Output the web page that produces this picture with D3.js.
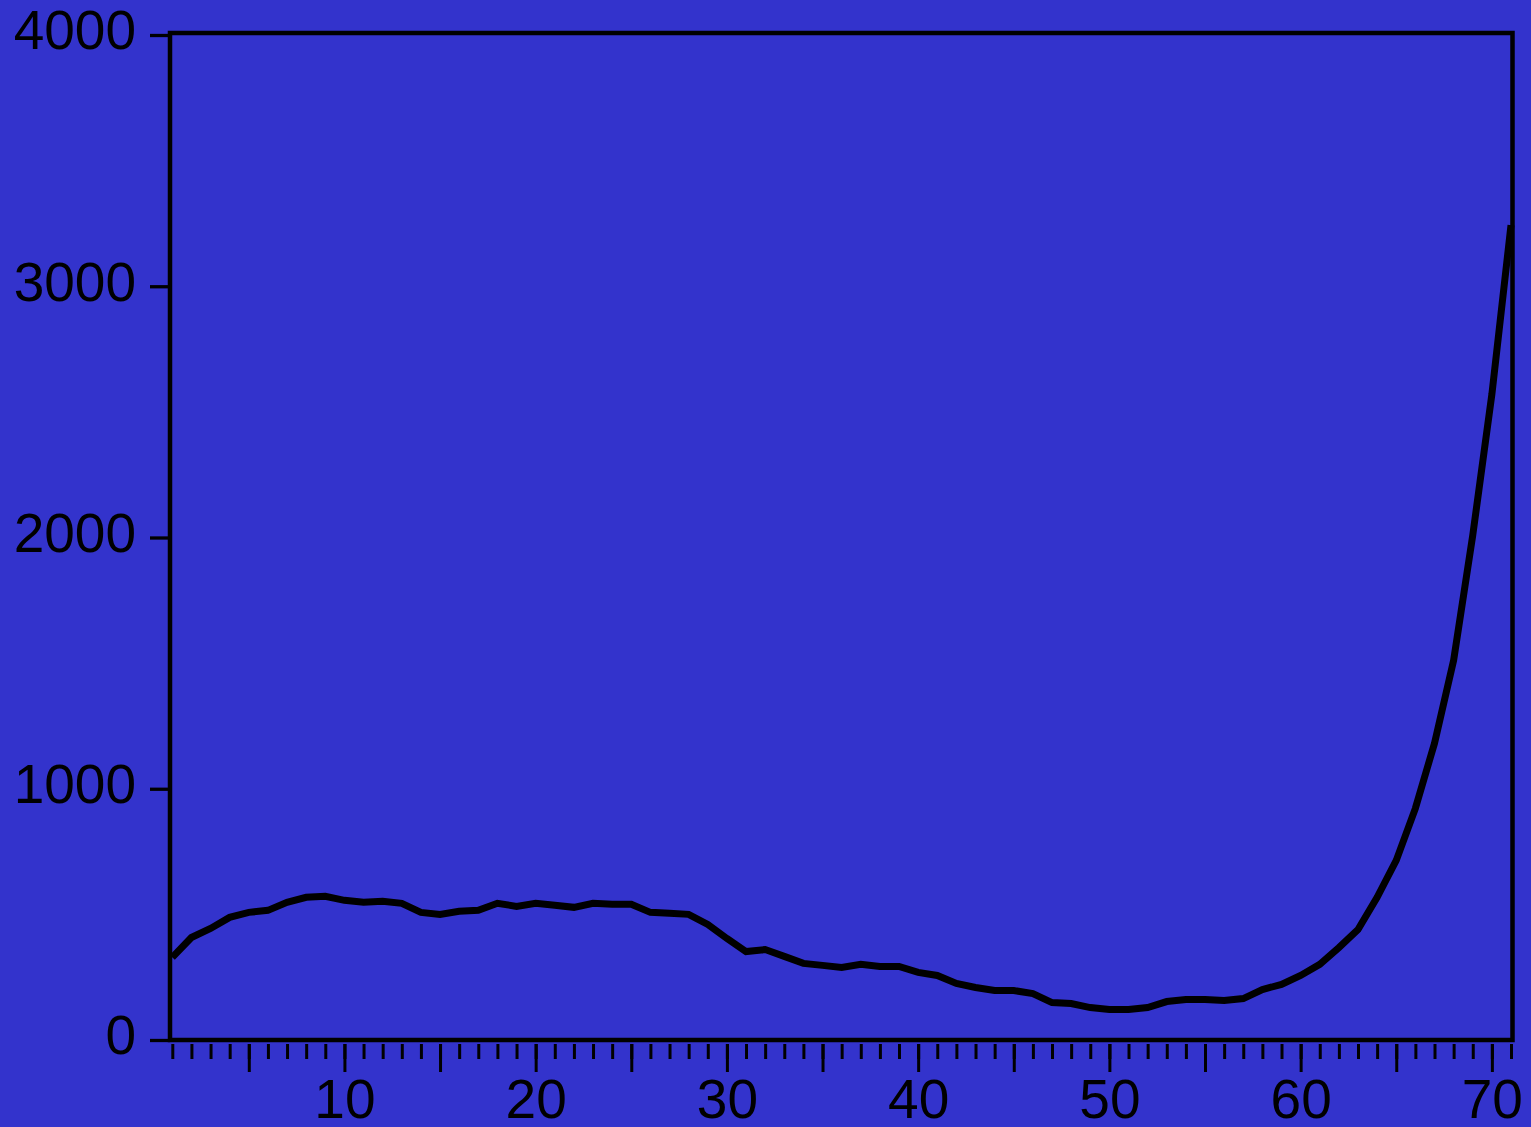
<!DOCTYPE html>
<html>
<head>
<meta charset="utf-8">
<script src="https://cdn.jsdelivr.net/npm/d3@7"></script>
<style>
  html, body { margin: 0; padding: 0; background: #3333CC; }
  svg { display: block; }
</style>
</head>
<body>
<svg id="chart" width="1531" height="1127"></svg>
<script>
// ---- data ----
const periods = d3.range(1, 72);
const values = [
  329, 408, 444, 488, 508, 516, 548, 568, 572, 556,
  548, 552, 544, 508, 500, 512, 516, 544, 532, 544,
  536, 528, 544, 540, 540, 508, 504, 500, 460, 404,
  352, 360, 333, 305, 297, 289, 301, 293, 293, 269,
  257, 225, 209, 197, 197, 185, 149, 145, 129, 121,
  121, 129, 153, 161, 161, 157, 165, 201, 221, 257,
  301, 368, 440, 568, 715, 922, 1181, 1511, 2009, 2570,
  3243
];
const yTicks = [0, 1000, 2000, 3000, 4000];
const xMajorTicks = [5, 10, 15, 20, 25, 30, 35, 40, 45, 50, 55, 60, 65, 70];
const xLabelTicks = [10, 20, 30, 40, 50, 60, 70];

// ---- layout ----
const frame = { left: 170, right: 1512.5, top: 33, bottom: 1040 };
const svg = d3.select("#chart");
const font = "'Liberation Sans', Arial, sans-serif";
const fontSize = 55;

svg.append("rect").attr("width", 1531).attr("height", 1127).attr("fill", "#3333CC");

const x = d3.scaleLinear().domain([1, 71]).range([172.3, 1511]);
const y = d3.scaleLinear().domain([0, 4000]).range([1040, 35]);

// frame
svg.append("rect")
  .attr("x", frame.left).attr("y", frame.top)
  .attr("width", frame.right - frame.left).attr("height", frame.bottom - frame.top)
  .attr("fill", "none").attr("stroke", "#000").attr("stroke-width", 4.5);

// y axis
const yAxis = d3.axisLeft(y).tickValues(yTicks).tickSize(20).tickPadding(14).tickFormat(d3.format("d"));
const gy = svg.append("g").attr("transform", `translate(${frame.left},0)`).call(yAxis);
gy.select(".domain").remove();
gy.selectAll(".tick line").attr("stroke", "#000").attr("stroke-width", 3.3);
gy.selectAll(".tick text").attr("fill", "#000").attr("font-family", font)
  .attr("font-size", fontSize).attr("dy", "0.25em");

// x axis minor ticks
const xMinor = d3.axisBottom(x).tickValues(periods).tickSize(15).tickFormat("");
const gxm = svg.append("g").attr("transform", `translate(0,1044)`).call(xMinor);
gxm.select(".domain").remove();
gxm.selectAll(".tick line").attr("stroke", "#000").attr("stroke-width", 3);

// x axis major ticks + labels
const xMajor = d3.axisBottom(x).tickValues(xMajorTicks).tickSize(28).tickPadding(7)
  .tickFormat(d => xLabelTicks.includes(d) ? String(d) : "");
const gxM = svg.append("g").attr("transform", `translate(0,1044)`).call(xMajor);
gxM.select(".domain").remove();
gxM.selectAll(".tick line").attr("stroke", "#000").attr("stroke-width", 3);
gxM.selectAll(".tick text").attr("fill", "#000").attr("font-family", font).attr("font-size", fontSize);

// line
const line = d3.line().x((d, i) => x(periods[i])).y(d => y(d));
svg.append("path")
  .datum(values)
  .attr("d", line)
  .attr("fill", "none")
  .attr("stroke", "#000")
  .attr("stroke-width", 7)
  .attr("stroke-linejoin", "miter")
  .attr("stroke-linecap", "butt");
</script>
</body>
</html>
